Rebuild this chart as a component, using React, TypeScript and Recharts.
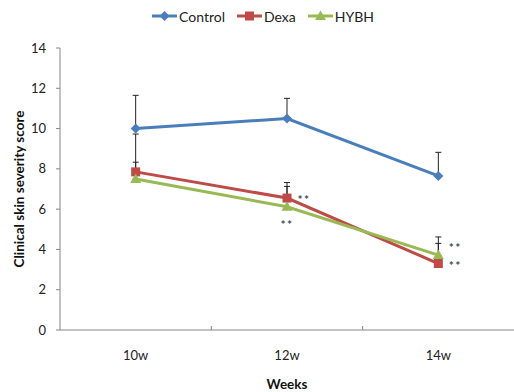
import { LineChart, Line, XAxis, YAxis, Legend, ErrorBar, LabelList } from 'recharts';

// values (upper SD bars only)
const weeks = ['10w', '12w', '14w'];
const control = [10.0, 10.5, 7.65];
const controlErr = [1.65, 1.0, 1.17];
const dexa = [7.85, 6.55, 3.3];
const dexaErr = [1.88, 0.58, 1.0];
const hybh = [7.5, 6.12, 3.72];
const hybhErr = [0.83, 1.2, 0.9];
const dexaSig = ['', '**', '**'];
const hybhSig = ['', '**', '**'];
const yTicks = [0, 2, 4, 6, 8, 10, 12, 14];

const W = 514;
const H = 392;
const LEFT = 60;
const BAND = (W - LEFT) / weeks.length;
const FONT = 'Lato, "Open Sans", sans-serif';
const AXIS = '#868686';
const COLORS = { control: '#4A7EBB', dexa: '#BE4B48', hybh: '#98B954' };

const data = weeks.map((w, i) => ({
  week: w,
  control: control[i],
  controlErr: [0, controlErr[i]],
  dexa: dexa[i],
  dexaErr: [0, dexaErr[i]],
  hybh: hybh[i],
  hybhErr: [0, hybhErr[i]],
  dexaSig: dexaSig[i],
  hybhSig: hybhSig[i],
}));

type Shape = 'diamond' | 'square' | 'triangle';

function Marker({ cx, cy, shape, color }: { cx: number; cy: number; shape: Shape; color: string }) {
  if (shape === 'diamond') {
    return <polygon points={`${cx},${cy - 5} ${cx + 5},${cy} ${cx},${cy + 5} ${cx - 5},${cy}`} fill={color} />;
  }
  if (shape === 'square') {
    return <rect x={cx - 4.5} y={cy - 4.5} width={9} height={9} fill={color} />;
  }
  return <polygon points={`${cx},${cy - 5.5} ${cx + 5.5},${cy + 4} ${cx - 5.5},${cy + 4}`} fill={color} />;
}

const dotFor = (shape: Shape, color: string) => (props: any) => (
  <Marker key={`${shape}-${props.index}`} cx={props.cx} cy={props.cy} shape={shape} color={color} />
);

const series = [
  { key: 'control', name: 'Control', shape: 'diamond' as Shape, color: COLORS.control },
  { key: 'dexa', name: 'Dexa', shape: 'square' as Shape, color: COLORS.dexa },
  { key: 'hybh', name: 'HYBH', shape: 'triangle' as Shape, color: COLORS.hybh },
];

function LegendContent() {
  return (
    <div style={{ height: 44, display: 'flex', justifyContent: 'center', alignItems: 'flex-start', gap: 12, paddingLeft: 12, fontFamily: FONT, fontSize: 14, color: '#222' }}>
      {series.map((s) => (
        <div key={s.key} style={{ display: 'flex', alignItems: 'center', height: 24 }}>
          <svg width={25} height={12}>
            <line x1={0} x2={25} y1={6} y2={6} stroke={s.color} strokeWidth={3} />
            <Marker cx={12.5} cy={6} shape={s.shape} color={s.color} />
          </svg>
          <span style={{ marginLeft: 2 }}>{s.name}</span>
        </div>
      ))}
    </div>
  );
}

function WeekTick(props: any) {
  const { x, y, payload, index } = props;
  return (
    <g>
      <text x={x} y={y + 30} textAnchor="middle" fontFamily={FONT} fontSize={13} fill="#222">
        {payload.value}
      </text>
      {index < weeks.length - 1 && (
        <line x1={x + BAND / 2} x2={x + BAND / 2} y1={y} y2={y - 4} stroke={AXIS} />
      )}
    </g>
  );
}

function SigLabel(props: any) {
  const { x, y, value, index, below } = props;
  if (!value) return null;
  const tx = below && index === 1 ? x : x + 17;
  const ty = below && index === 1 ? y + 22 : below ? y - 3 : y + 6;
  return (
    <text x={tx} y={ty} textAnchor="middle" fontFamily={FONT} fontSize={12} fontWeight="bold" fill="#3F4A5C" letterSpacing={1.5}>
      {value}
    </text>
  );
}

export default function App() {
  return (
    <div style={{ position: 'fixed', left: 0, top: 0, background: '#fff' }}>
      <LineChart width={W} height={H} data={data} margin={{ top: 4, right: 0, left: 0, bottom: 0 }}>
        <Legend verticalAlign="top" align="center" content={<LegendContent />} />
        <XAxis
          dataKey="week"
          height={62}
          stroke={AXIS}
          padding={{ left: BAND / 2, right: BAND / 2 }}
          tickLine={false}
          tickSize={0}
          tickMargin={0}
          tick={<WeekTick />}
          label={{ value: 'Weeks', position: 'insideBottom', offset: 3, fontFamily: FONT, fontSize: 13.5, fontWeight: 'bold', fill: '#111' }}
        />
        <YAxis
          width={LEFT}
          domain={[0, 14]}
          ticks={yTicks}
          interval={0}
          stroke={AXIS}
          tickSize={4}
          tickMargin={10}
          tick={{ fontFamily: FONT, fontSize: 13, fill: '#222' }}
          label={{ value: 'Clinical skin severity score', angle: -90, position: 'insideLeft', offset: 19, fontFamily: FONT, fontSize: 13.5, fontWeight: 'bold', fill: '#111', style: { textAnchor: 'middle' } }}
        />
        {series.map((s) => (
          <Line
            key={s.key}
            dataKey={s.key}
            name={s.name}
            stroke={s.color}
            strokeWidth={3}
            type="linear"
            dot={dotFor(s.shape, s.color)}
            activeDot={false}
            isAnimationActive={false}
          >
            <ErrorBar dataKey={`${s.key}Err`} direction="y" width={3} stroke="#222" strokeWidth={1} />
            {s.key === 'dexa' && (
              <LabelList dataKey="dexaSig" content={(p: any) => <SigLabel {...p} />} />
            )}
            {s.key === 'hybh' && (
              <LabelList dataKey="hybhSig" content={(p: any) => <SigLabel {...p} below />} />
            )}
          </Line>
        ))}
      </LineChart>
    </div>
  );
}
